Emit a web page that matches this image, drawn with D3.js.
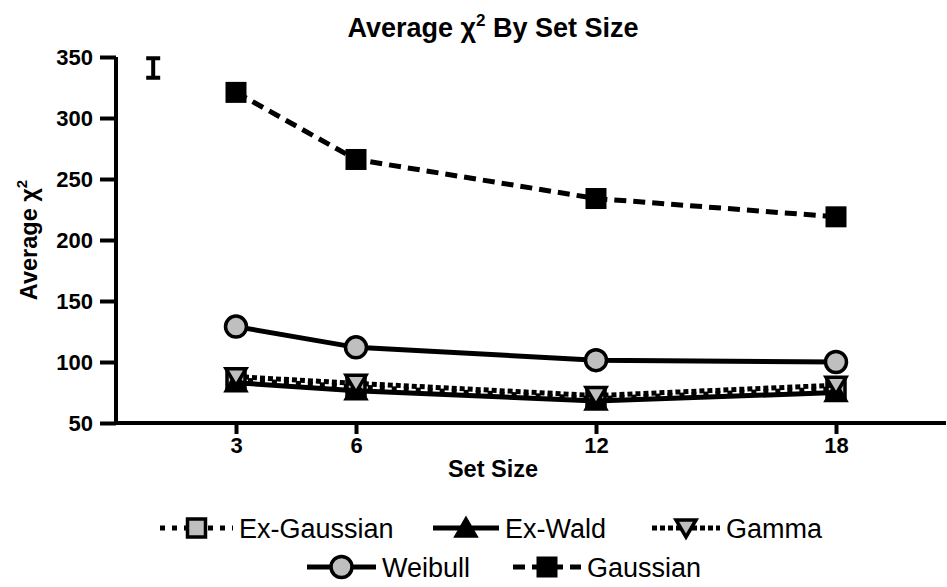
<!DOCTYPE html>
<html><head><meta charset="utf-8">
<script src="https://cdn.jsdelivr.net/npm/d3@7"></script>
<style>
html,body{margin:0;padding:0;background:#fff;}
svg{display:block;font-family:"Liberation Sans",Arial,sans-serif;}
</style></head>
<body><svg id="c" width="947" height="587"></svg>
<script>
const setSizes = [3, 6, 12, 18];
const exGaussian = [85.5, 79.5, 70, 78];
const exWald = [83, 76.5, 68, 75];
const gamma = [88, 82.5, 72.5, 81];
const weibull = [129, 112, 101.5, 100];
const gaussian = [321, 266, 234, 219];
const yTicks = [50, 100, 150, 200, 250, 300, 350];
const xTicks = [3, 6, 12, 18];
const errorX = [0.93];
const errorLo = [333];
const errorHi = [349];
const seriesNames = ["Ex-Gaussian", "Ex-Wald", "Gamma", "Weibull", "Gaussian"];

const grey = "#bfbfbf";
const styles = {
  "Ex-Gaussian": {dash: "5,7", shape: "square", fill: grey},
  "Ex-Wald": {dash: null, shape: "up", fill: "#000"},
  "Gamma": {dash: "5,3", shape: "down", fill: grey},
  "Weibull": {dash: null, shape: "circle", fill: grey},
  "Gaussian": {dash: "12,7", shape: "bigsquare", fill: "#000"}
};
const seriesData = {
  "Ex-Gaussian": exGaussian, "Ex-Wald": exWald, "Gamma": gamma,
  "Weibull": weibull, "Gaussian": gaussian
};

const svg = d3.select("#c");
svg.append("rect").attr("width", 947).attr("height", 587).attr("fill", "#fff");

const x = d3.scaleLinear().domain([0, 20.75]).range([116, 946]);
const y = d3.scaleLinear().domain([50, 350]).range([423, 57]);

function drawMarker(g, shape, cx, cy) {
  if (shape === "circle") {
    g.append("circle").attr("cx", cx).attr("cy", cy).attr("r", 10.5)
      .attr("fill", grey).attr("stroke", "#000").attr("stroke-width", 3.5);
  } else if (shape === "bigsquare") {
    g.append("rect").attr("x", cx - 10.5).attr("y", cy - 10.5).attr("width", 21).attr("height", 21)
      .attr("fill", "#000");
  } else if (shape === "square") {
    g.append("rect").attr("x", cx - 9).attr("y", cy - 9).attr("width", 18).attr("height", 18)
      .attr("fill", grey).attr("stroke", "#000").attr("stroke-width", 3.5);
  } else if (shape === "up") {
    g.append("path").attr("d", `M${cx},${cy - 11}L${cx + 11.5},${cy + 9}L${cx - 11.5},${cy + 9}Z`)
      .attr("fill", "#000").attr("stroke", "#000").attr("stroke-width", 1.5);
  } else if (shape === "down") {
    g.append("path").attr("d", `M${cx - 10},${cy - 8}L${cx + 10},${cy - 8}L${cx},${cy + 9}Z`)
      .attr("fill", grey).attr("stroke", "#000").attr("stroke-width", 3.5).attr("stroke-linejoin", "miter");
  }
}

// axes
const yAxis = d3.axisLeft(y).tickValues(yTicks).tickSize(16).tickSizeOuter(0).tickPadding(7);
const gy = svg.append("g").attr("transform", "translate(116,0)").call(yAxis);
const xAxis = d3.axisBottom(x).tickValues(xTicks).tickSize(11).tickSizeOuter(0).tickPadding(3);
const gx = svg.append("g").attr("transform", "translate(0,423)").call(xAxis);
[gy, gx].forEach(g => {
  g.select(".domain").attr("stroke", "#000").attr("stroke-width", 4);
  g.selectAll(".tick line").attr("stroke", "#000").attr("stroke-width", 4);
  g.selectAll(".tick text").attr("fill", "#000").attr("font-size", 22).attr("font-weight", "bold")
    .attr("font-family", "Liberation Sans, Arial, sans-serif");
});
gy.select(".domain").attr("d", `M0,${y(50) + 2}V${y(350)}`);
gx.select(".domain").attr("d", `M${x(0) - 2},0H${x(20.75)}`);

// series
const line = d3.line().x(d => x(d[0])).y(d => y(d[1]));
seriesNames.forEach(name => {
  const st = styles[name];
  const pts = setSizes.map((s, i) => [s, seriesData[name][i]]);
  const g = svg.append("g");
  g.append("path").attr("d", line(pts)).attr("fill", "none").attr("stroke", "#000")
    .attr("stroke-width", 5).attr("stroke-dasharray", st.dash);
  pts.forEach(p => drawMarker(g, st.shape, x(p[0]), y(p[1])));
});

// error bar
errorX.forEach((ex, i) => {
  const cx = x(ex);
  svg.append("path")
    .attr("d", `M${cx},${y(errorHi[i])}V${y(errorLo[i])}M${cx - 7},${y(errorHi[i])}H${cx + 7}M${cx - 7},${y(errorLo[i])}H${cx + 7}`)
    .attr("stroke", "#000").attr("stroke-width", 4).attr("fill", "none");
});

// title
const title = svg.append("text").attr("x", 493).attr("y", 37).attr("text-anchor", "middle")
  .attr("font-size", 27).attr("font-weight", "bold").attr("fill", "#000");
title.append("tspan").text("Average χ");
title.append("tspan").attr("font-size", 17).attr("dy", -11).text("2");
title.append("tspan").attr("dy", 11).text(" By Set Size");

// axis titles
const yt = svg.append("text").attr("transform", "translate(37,240) rotate(-90)").attr("text-anchor", "middle")
  .attr("font-size", 23.5).attr("font-weight", "bold").attr("fill", "#000");
yt.append("tspan").text("Average χ");
yt.append("tspan").attr("font-size", 15).attr("dy", -10).text("2");

svg.append("text").attr("x", 493).attr("y", 477).attr("text-anchor", "middle")
  .attr("font-size", 23.5).attr("font-weight", "bold").attr("fill", "#000").text("Set Size");

// legend
const legendPos = {
  "Ex-Gaussian": [160, 233, 528], "Ex-Wald": [433, 499, 528], "Gamma": [652, 720, 528],
  "Weibull": [307, 376, 567], "Gaussian": [513, 581, 567]
};
seriesNames.forEach(name => {
  const st = styles[name];
  const [x0, x1, ly] = legendPos[name];
  const g = svg.append("g");
  g.append("line").attr("x1", x0).attr("x2", x1).attr("y1", ly).attr("y2", ly)
    .attr("stroke", "#000").attr("stroke-width", 5).attr("stroke-dasharray", st.dash);
  drawMarker(g, st.shape, (x0 + x1) / 2, ly);
  g.append("text").attr("x", x1 + 6).attr("y", ly + 10).attr("font-size", 27).attr("fill", "#000").text(name);
});
</script></body></html>
